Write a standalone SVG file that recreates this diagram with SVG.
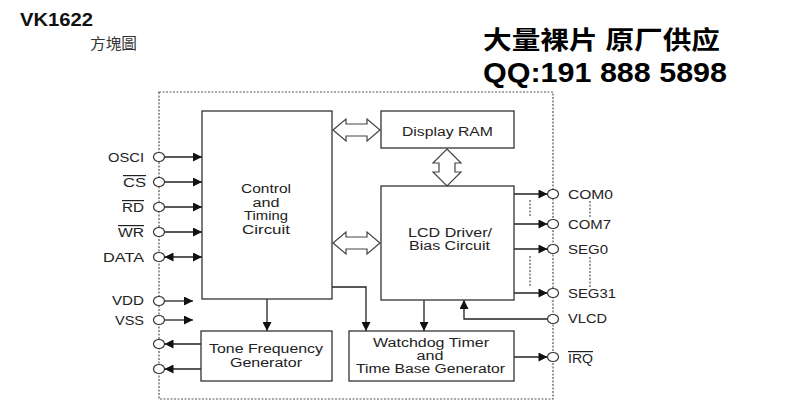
<svg xmlns="http://www.w3.org/2000/svg" width="800" height="412" viewBox="0 0 800 412">
<defs>
<marker id="ah" viewBox="0 0 10 10" refX="10" refY="5" markerWidth="10" markerHeight="9" markerUnits="userSpaceOnUse" orient="auto-start-reverse">
<path d="M0,0 L10,5 L0,10 Z" fill="#111"/>
</marker>
</defs>
<style>
.bx{fill:#fff;stroke:#333;stroke-width:1.3}
.ln{fill:none;stroke:#222;stroke-width:1.3}
.dl{fill:none;stroke:#555;stroke-width:1.2;stroke-dasharray:2 1.5}
.pin{fill:#fff;stroke:#333;stroke-width:1.2}
.dbl{fill:#fff;stroke:#444;stroke-width:1.2}
.t{font-family:"Liberation Sans",Arial,sans-serif;font-size:12px;fill:#222}
.m{text-anchor:middle}
.e{text-anchor:end}
.ov{text-decoration:overline}
</style>
<rect width="800" height="412" fill="#fff"/>

<text x="20" y="26" font-family="Liberation Sans,Arial,sans-serif" font-weight="bold" font-size="18" fill="#111" textLength="73" lengthAdjust="spacingAndGlyphs">VK1622</text>
<text x="90" y="49" font-family="Noto Sans CJK TC,sans-serif" font-size="15" fill="#333" textLength="47" lengthAdjust="spacingAndGlyphs">方塊圖</text>
<text x="483" y="49" font-family="Liberation Sans,Noto Sans CJK SC,sans-serif" font-weight="bold" font-size="25" fill="#000" textLength="237" lengthAdjust="spacingAndGlyphs">大量裸片 原厂供应</text>
<text x="483" y="82" font-family="Liberation Sans,Arial,sans-serif" font-weight="bold" font-size="28" fill="#000" textLength="244" lengthAdjust="spacingAndGlyphs">QQ:191 888 5898</text>

<rect class="dl" x="159" y="92" width="394" height="307"/>

<g id="connectors">
<line class="ln" x1="164.5" y1="157" x2="202" y2="157" marker-end="url(#ah)"/>
<line class="ln" x1="164.5" y1="182" x2="202" y2="182" marker-end="url(#ah)"/>
<line class="ln" x1="164.5" y1="207" x2="202" y2="207" marker-end="url(#ah)"/>
<line class="ln" x1="164.5" y1="232" x2="202" y2="232" marker-end="url(#ah)"/>
<line class="ln" x1="164.5" y1="257" x2="202" y2="257" marker-start="url(#ah)" marker-end="url(#ah)"/>
<line class="ln" x1="164.5" y1="301" x2="193" y2="301" marker-end="url(#ah)"/>
<line class="ln" x1="164.5" y1="320" x2="193" y2="320" marker-end="url(#ah)"/>
<line class="ln" x1="201" y1="344" x2="164.5" y2="344" marker-end="url(#ah)"/>
<line class="ln" x1="201" y1="369" x2="164.5" y2="369" marker-end="url(#ah)"/>
<line class="ln" x1="267" y1="299" x2="267" y2="331" marker-end="url(#ah)"/>
<polyline class="ln" points="332,287 366,287 366,331" marker-end="url(#ah)"/>
<line class="ln" x1="424" y1="300" x2="424" y2="331" marker-end="url(#ah)"/>
<polyline class="ln" points="547.5,319 464,319 464,300" marker-end="url(#ah)"/>
<line class="ln" x1="514" y1="194" x2="547.5" y2="194" marker-end="url(#ah)"/>
<line class="ln" x1="514" y1="224" x2="547.5" y2="224" marker-end="url(#ah)"/>
<line class="ln" x1="514" y1="249" x2="547.5" y2="249" marker-end="url(#ah)"/>
<line class="ln" x1="514" y1="293" x2="547.5" y2="293" marker-end="url(#ah)"/>
<line class="ln" x1="514" y1="357" x2="547.5" y2="357" marker-end="url(#ah)"/>
<line class="dl" x1="530" y1="200" x2="530" y2="217"/>
<line class="dl" x1="530" y1="256" x2="530" y2="287"/>
<line class="dl" x1="590" y1="201" x2="590" y2="218"/>
<line class="dl" x1="590" y1="257" x2="590" y2="287"/>
<path class="dbl" d="M333,130 L346,119 L346,124 L367,124 L367,119 L380,130 L367,141 L367,136 L346,136 L346,141 Z"/>
<path class="dbl" d="M333,243 L346,232 L346,237 L367,237 L367,232 L380,243 L367,254 L367,249 L346,249 L346,254 Z"/>
<path class="dbl" d="M447,149 L461,163 L455,163 L455,172 L461,172 L447,186 L433,172 L439,172 L439,163 L433,163 Z"/>
</g>

<g id="control">
<rect class="bx" x="202" y="111" width="130" height="188"/>
<text class="t m" x="266" y="193" textLength="50" lengthAdjust="spacingAndGlyphs">Control</text>
<text class="t m" x="266" y="207" textLength="27" lengthAdjust="spacingAndGlyphs">and</text>
<text class="t m" x="266" y="220" textLength="44" lengthAdjust="spacingAndGlyphs">Timing</text>
<text class="t m" x="266" y="234" textLength="48" lengthAdjust="spacingAndGlyphs">Circuit</text>
</g>
<g id="display-ram">
<rect class="bx" x="381" y="111" width="133" height="37"/>
<text class="t m" x="447.5" y="136" textLength="91" lengthAdjust="spacingAndGlyphs">Display RAM</text>
</g>
<g id="lcd-driver">
<rect class="bx" x="381" y="186" width="133" height="114"/>
<text class="t m" x="450" y="237" textLength="84" lengthAdjust="spacingAndGlyphs">LCD Driver/</text>
<text class="t m" x="449.5" y="250" textLength="81" lengthAdjust="spacingAndGlyphs">Bias Circuit</text>
</g>
<g id="tone">
<rect class="bx" x="201" y="331" width="131" height="50"/>
<text class="t m" x="266" y="353" textLength="114" lengthAdjust="spacingAndGlyphs">Tone Frequency</text>
<text class="t m" x="266" y="367" textLength="72" lengthAdjust="spacingAndGlyphs">Generator</text>
</g>
<g id="watchdog">
<rect class="bx" x="349" y="331" width="165" height="50"/>
<text class="t m" x="431" y="347" textLength="116" lengthAdjust="spacingAndGlyphs">Watchdog Timer</text>
<text class="t m" x="430" y="360" textLength="27" lengthAdjust="spacingAndGlyphs">and</text>
<text class="t m" x="430.5" y="373" textLength="149" lengthAdjust="spacingAndGlyphs">Time Base Generator</text>
</g>

<g id="pins-left">
<ellipse class="pin" cx="159" cy="157" rx="5.5" ry="4.5"/>
<ellipse class="pin" cx="159" cy="182" rx="5.5" ry="4.5"/>
<ellipse class="pin" cx="159" cy="207" rx="5.5" ry="4.5"/>
<ellipse class="pin" cx="159" cy="232" rx="5.5" ry="4.5"/>
<ellipse class="pin" cx="159" cy="257" rx="5.5" ry="4.5"/>
<ellipse class="pin" cx="159" cy="301" rx="5.5" ry="4.5"/>
<ellipse class="pin" cx="159" cy="320" rx="5.5" ry="4.5"/>
<ellipse class="pin" cx="159" cy="344" rx="5.5" ry="4.5"/>
<ellipse class="pin" cx="159" cy="369" rx="5.5" ry="4.5"/>
<text class="t e" x="144" y="162" textLength="36" lengthAdjust="spacingAndGlyphs">OSCI</text>
<text class="t e ov" x="146" y="187" textLength="23" lengthAdjust="spacingAndGlyphs">CS</text>
<text class="t e ov" x="144" y="212" textLength="22" lengthAdjust="spacingAndGlyphs">RD</text>
<text class="t e ov" x="144" y="237" textLength="26" lengthAdjust="spacingAndGlyphs">WR</text>
<text class="t e" x="144" y="262" textLength="41" lengthAdjust="spacingAndGlyphs">DATA</text>
<text class="t e" x="144" y="305" textLength="32" lengthAdjust="spacingAndGlyphs">VDD</text>
<text class="t e" x="144" y="325" textLength="29" lengthAdjust="spacingAndGlyphs">VSS</text>
</g>

<g id="pins-right">
<ellipse class="pin" cx="553" cy="194" rx="5.5" ry="4.5"/>
<ellipse class="pin" cx="553" cy="224" rx="5.5" ry="4.5"/>
<ellipse class="pin" cx="553" cy="249" rx="5.5" ry="4.5"/>
<ellipse class="pin" cx="553" cy="293" rx="5.5" ry="4.5"/>
<ellipse class="pin" cx="553" cy="319" rx="5.5" ry="4.5"/>
<ellipse class="pin" cx="553" cy="357" rx="5.5" ry="4.5"/>
<text class="t" x="568" y="199" textLength="45" lengthAdjust="spacingAndGlyphs">COM0</text>
<text class="t" x="568" y="229" textLength="43" lengthAdjust="spacingAndGlyphs">COM7</text>
<text class="t" x="568" y="254" textLength="40" lengthAdjust="spacingAndGlyphs">SEG0</text>
<text class="t" x="568" y="298" textLength="48" lengthAdjust="spacingAndGlyphs">SEG31</text>
<text class="t" x="568" y="323" textLength="39" lengthAdjust="spacingAndGlyphs">VLCD</text>
<text class="t ov" x="568" y="363" textLength="25" lengthAdjust="spacingAndGlyphs">IRQ</text>
</g>
</svg>
